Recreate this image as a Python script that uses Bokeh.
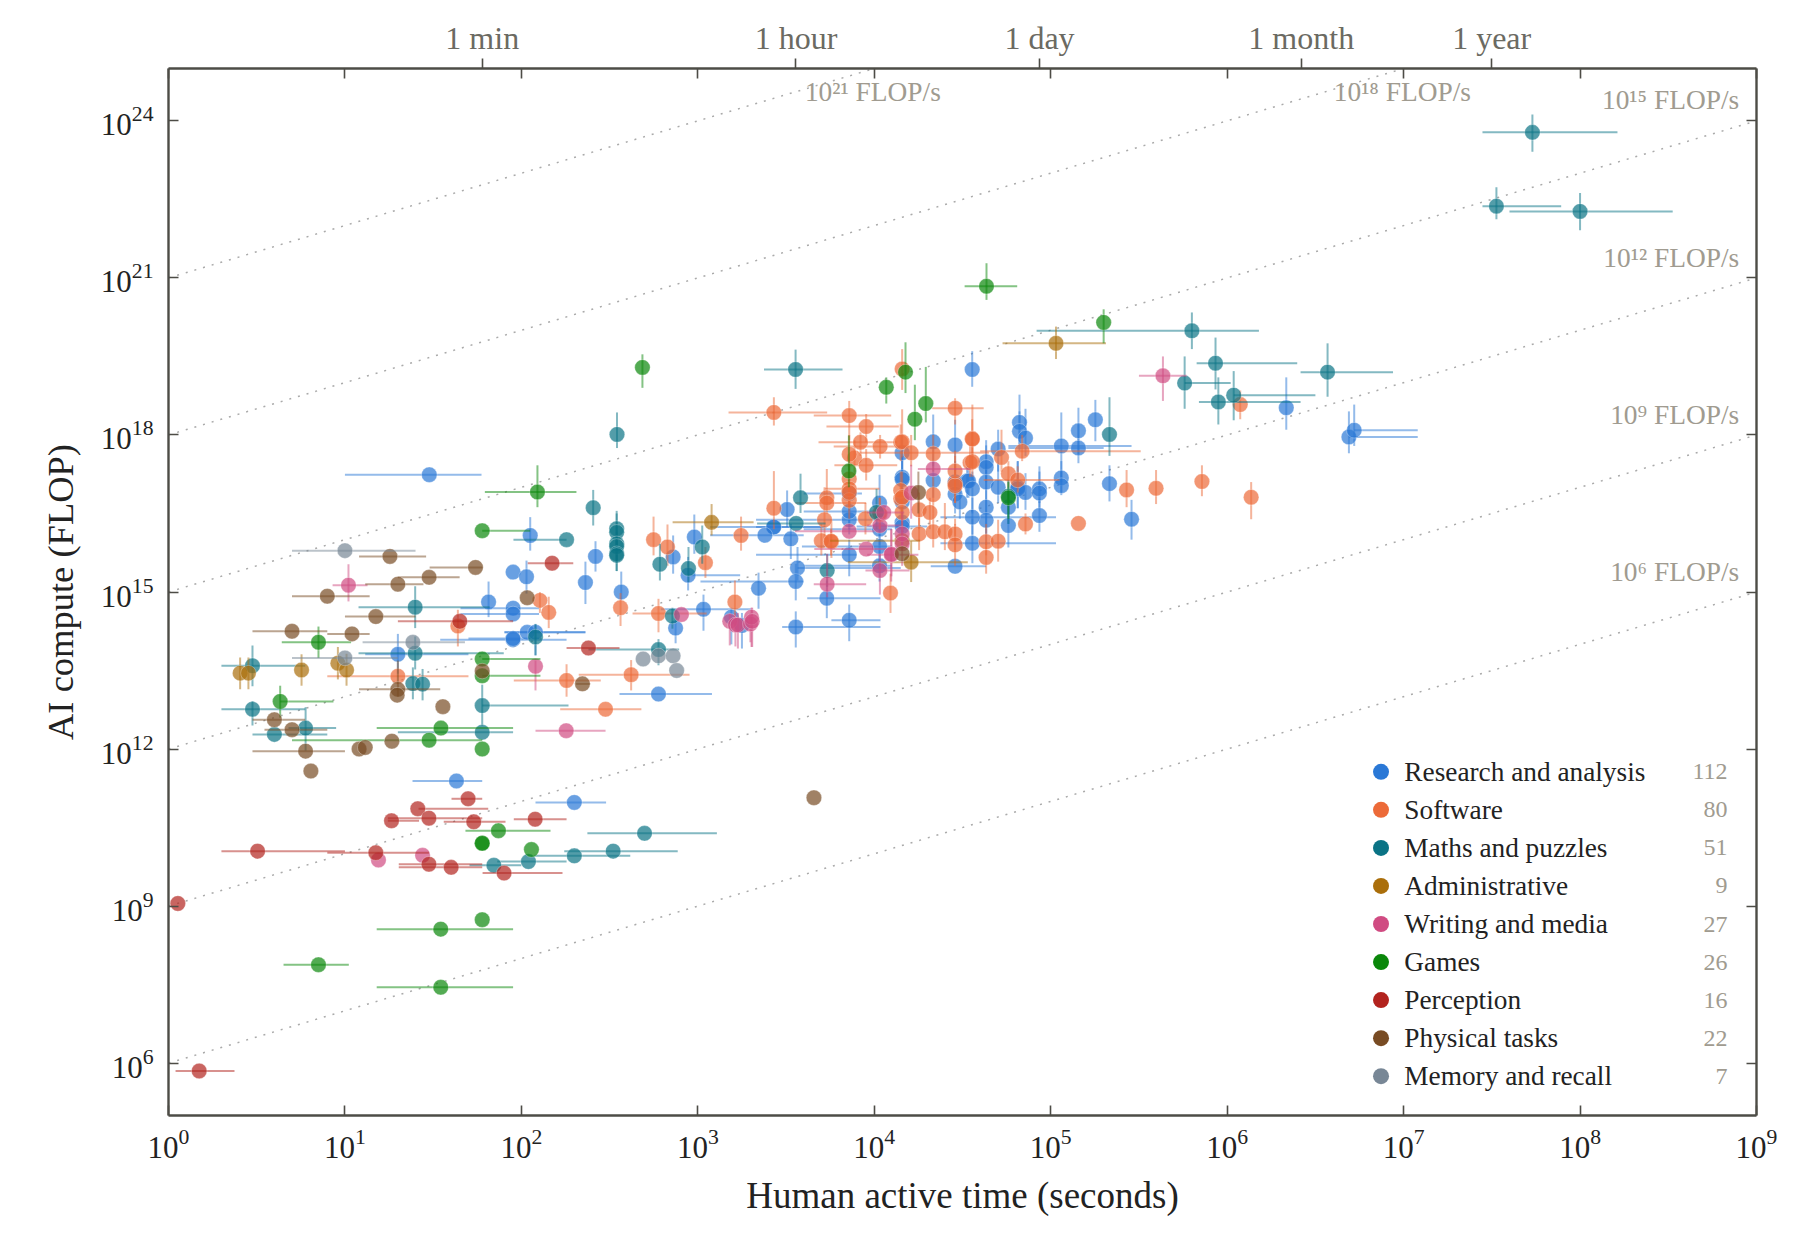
from bokeh.plotting import figure
from bokeh.models import Range1d, LinearAxis, FixedTicker, LogTickFormatter, Label
from bokeh.embed import file_html
from bokeh.resources import INLINE

N = None
# rows are log10(time), log10(FLOP), then optional log10 x low/high and y low/high
RESEARCH = [
 (1.30,13.81,1.115,1.70,13.44,14.2),(1.632,11.39,1.383,1.778),(2.30,10.98,2.08,2.48),
 (2.05,16.08,N,N,15.79,16.43),(1.953,15.38),(2.029,15.29,N,N,14.97,15.6),(1.814,14.81,N,N,14.52,15.2),
 (1.953,14.69,1.655,2.10),(1.953,14.58,1.655,2.10),(2.033,14.23,1.904,2.363),(2.08,14.23,1.904,2.363,13.79,14.39),
 (1.953,14.09,1.54,2.256),(1.953,14.11,1.70,2.10),(2.42,15.68,N,N,15.39,15.97),(2.363,15.18,N,N,14.77,15.58),
 (2.566,15.0,N,N,14.84,15.39),(2.86,15.67,N,N,15.35,16.08),(2.98,16.05,N,N,15.73,16.48),(2.945,15.32,2.945,3.24,15.03,15.67),
 (3.032,14.67,2.79,3.3,14.26,14.95),(2.874,14.31,N,N,14.02,14.65),(2.777,13.05,2.556,3.08),(3.19,14.52,N,N,14.0,14.7),
 (1.478,17.24,1.0,1.774),(3.506,16.575,N,N,16.24,16.94),(3.43,16.24,3.07,3.73),(3.43,16.24,3.33,3.72),
 (3.38,16.085,3.07,3.6),(3.527,16.015,N,N,15.63,16.3),(3.565,15.46,3.565,4.15,15.22,15.86),(3.555,15.2,3.015,3.6,14.84,15.54),
 (3.344,15.07,N,N,14.68,15.37),(3.25,14.36,N,N,13.92,14.6),(3.555,14.33,3.478,4.035,13.94,14.63),
 (3.858,14.46,3.757,4.035,14.06,14.76),(3.731,14.88,3.62,4.035,14.5,15.22),(3.858,15.71,3.33,3.9,15.3,16.0),
 (3.858,16.38,3.33,4.03,16.1,16.7),(3.858,16.54,3.6,4.03,16.2,16.9),(3.858,16.88,3.6,3.93,16.6,17.2),
 (4.03,16.7,N,N,16.4,17.24),(4.03,16.2,3.6,4.1,15.9,16.5),(4.03,15.87,3.59,4.1,15.5,16.2),(4.03,15.5,3.6,4.1,15.2,15.8),
 (4.158,17.66,N,N,17.3,18.0),(4.158,17.19,N,N,16.8,17.6),(4.158,17.15,N,N,16.8,17.6),(4.158,16.72,N,N,16.4,17.1),
 (4.158,16.33,N,N,16.0,16.7),(4.158,16.25,3.9,4.3,15.9,16.6),(4.334,17.87,N,N,17.4,18.39),(4.334,17.13,N,N,16.8,17.5),
 (4.458,17.81,N,N,17.32,18.29),(4.458,17.1,N,N,16.7,17.5),(4.458,16.87,N,N,16.5,17.2),(4.485,16.72,N,N,16.4,17.0),
 (4.526,17.12,N,N,16.8,17.4),(4.534,17.12,N,N,16.8,17.4),(4.458,15.49,4.32,4.634),(4.555,19.25,N,N,18.92,19.6),
 (4.634,17.49,N,N,17.1,17.9),(4.634,17.38,N,N,17.0,17.8),(4.634,17.1,N,N,16.7,17.45),(4.634,16.62,N,N,16.1,17.0),
 (4.634,16.37,N,N,15.9,16.7),(4.556,16.43,4.375,5.03,16.1,16.8),(4.556,16.97,N,N,16.5,17.3),(4.556,15.93,4.375,5.03,15.55,16.4),
 (4.702,17.73,N,N,17.3,18.1),(4.702,17.0,N,N,16.7,17.45),(4.76,16.62,N,N,16.3,17.0),(4.76,16.27,N,N,15.85,16.7),
 (4.813,17.0,N,N,16.6,17.5),(4.813,16.97,N,N,16.6,17.5),(4.823,18.24,N,N,17.83,18.77),(4.823,18.07,N,N,17.7,18.45),
 (4.857,17.94,N,N,17.6,18.5),(4.857,16.9,N,N,16.57,17.27),(4.936,16.97,N,N,16.7,17.4),(4.936,16.89,N,N,16.6,17.3),
 (4.936,16.46,N,N,16.15,16.78),(5.06,17.79,4.76,5.458,17.1,18.43),(5.06,17.18,N,N,16.9,17.5),(5.06,17.03,N,N,16.85,17.3),
 (5.157,18.08,N,N,17.64,18.52),(5.157,17.75,4.76,5.3,17.46,18.2),(5.253,18.29,N,N,17.88,18.67),(5.333,17.07,N,N,16.73,17.42),
 (5.458,16.39,N,N,16.0,16.76),(6.335,18.52,N,N,18.1,19.1),(6.69,17.96,6.69,7.08,17.65,18.45),(6.72,18.09,6.72,7.08,17.79,18.58),
]
SOFTWARE = [
 (1.30,13.39,0.90,1.70),(1.64,14.35,N,N,13.96,14.66),(2.105,14.84,N,N,14.6,15.0),(2.155,14.61,N,N,14.31,14.91),
 (2.256,13.31,1.957,2.45,13.0,13.62),(2.622,13.42,2.325,2.953,13.12,13.7),(2.477,12.76,2.22,2.68),(2.562,14.7,N,N,14.35,14.98),
 (2.777,14.59,2.63,3.05,14.23,14.87),(2.749,16.0,N,N,15.7,16.44),(2.828,15.86,N,N,15.5,16.29),(3.043,15.56,N,N,15.27,15.86),
 (3.21,14.81,N,N,14.52,15.22),(3.245,16.08,N,N,15.79,16.44),(3.431,18.43,3.174,3.733,18.18,18.72),(3.431,16.6,N,N,16.2,17.31),
 (3.731,16.8,N,N,16.5,17.35),(3.731,16.7,3.553,3.954),(3.718,16.38,N,N,16.0,17.0),(3.70,15.98,N,N,15.7,16.3),
 (3.757,15.96,N,N,15.65,16.39),(3.858,18.37,3.657,4.096,17.9,18.65),(3.954,18.16,3.729,4.139,17.86,18.4),(3.922,17.86,3.684,4.13,17.6,18.05),
 (4.033,17.78,3.77,4.2,17.55,18.0),(3.888,17.56,N,N,17.2,17.9),(3.858,17.63,N,N,17.3,18.0),(3.954,17.42,3.774,4.13,17.13,17.73),
 (3.858,17.16,N,N,16.8,17.5),(3.858,16.97,3.72,4.03,16.6,17.3),(3.858,16.75,N,N,16.4,17.1),(4.15,17.86,N,N,17.5,18.2),
 (4.15,16.94,N,N,16.6,17.3),(4.15,16.78,N,N,16.4,17.1),(4.092,14.98,N,N,14.6,15.35),(4.032,16.48,N,N,16.2,16.8),
 (4.158,19.26,N,N,18.86,19.64),(4.458,18.51,4.328,4.62,18.2,18.7),(4.158,17.87,N,N,17.57,18.49),(4.209,17.66,3.92,4.65,17.4,18.0),
 (4.334,17.64,N,N,17.3,18.0),(4.555,17.93,N,N,17.4,18.3),(4.543,17.47,N,N,17.2,17.8),(4.458,17.07,N,N,16.7,17.7),
 (4.458,17.03,N,N,16.7,17.4),(4.334,16.86,N,N,16.5,17.2),(4.254,16.57,N,N,16.2,16.9),(4.315,16.52,N,N,16.2,16.8),
 (4.254,16.11,N,N,15.8,16.5),(4.334,16.15,N,N,15.85,16.5),(4.40,16.15,N,N,15.8,16.7),(4.458,16.11,N,N,15.8,16.4),
 (4.458,15.9,N,N,15.5,16.3),(4.158,16.81,N,N,16.5,17.3),(4.158,16.52,N,N,16.2,16.9),(3.755,15.97,N,N,15.7,16.2),
 (4.556,17.92,N,N,17.6,18.58),(4.556,17.49,N,N,17.2,17.85),(4.721,17.57,N,N,17.3,18.1),(4.838,17.69,4.6,5.51,17.5,18.0),
 (4.76,17.26,N,N,17.0,17.5),(4.813,17.14,4.62,5.05,16.9,17.4),(4.458,17.31,N,N,17.0,17.6),(4.634,15.96,N,N,15.7,16.3),
 (4.702,15.97,N,N,15.58,16.38),(4.634,15.66,N,N,15.35,15.95),(4.857,16.3,N,N,16.1,16.5),(5.157,16.31),
 (5.43,16.95,N,N,16.62,17.33),(5.597,16.98,N,N,16.68,17.33),(5.857,17.11,N,N,16.83,17.42),(6.136,16.81,N,N,16.39,17.1),
 (6.074,18.58,N,N,18.3,18.85),(3.858,16.9,N,N,16.6,17.2),(3.95,16.4,N,N,16.1,16.7),(4.03,16.5,N,N,16.2,16.8),
]
MATHS = [
 (0.476,13.59,0.30,0.775,13.2,13.98),(1.398,14.71,1.077,1.82,14.31,15.11),(1.398,13.83,1.077,1.9,13.52,14.15),
 (1.385,13.25,N,N,12.95,13.56),(1.44,13.24,N,N,12.93,13.53),(0.476,12.76,0.30,0.775,12.45,12.92),(0.777,12.4,0.68,0.95,11.97,12.8),
 (0.60,12.28,0.476,0.90),(1.778,12.83,1.778,2.267,12.45,13.23),(1.778,12.32,1.3,1.953),(2.08,14.14,N,N,13.79,14.39),
 (2.256,16.0,1.955,2.256),(2.407,16.61,N,N,16.27,16.95),(2.54,16.21,N,N,15.9,16.55),(2.54,16.14,N,N,15.85,16.5),(2.54,15.92,N,N,15.6,16.25),
 (2.54,15.87,N,N,15.55,16.15),(2.54,15.73,N,N,15.4,16.0),(2.54,15.7,N,N,15.4,16.0),(2.785,15.53,N,N,15.22,15.92),
 (3.025,15.86,N,N,15.54,16.27),(2.947,15.45,N,N,15.19,15.86),(2.856,14.54,N,N,14.3,14.7),(2.777,13.9,2.38,2.894,13.6,14.1),
 (3.582,16.8,N,N,16.51,17.26),(3.557,16.31,3.336,3.724),(3.733,15.41,N,N,15.1,15.72),(4.013,16.52,N,N,16.2,16.97),
 (2.542,18.01,N,N,17.75,18.43),(3.554,19.25,3.375,3.82,18.88,19.63),(4.76,16.83,N,N,16.3,17.13),(5.333,18.01,N,N,17.6,18.72),
 (7.73,23.78,7.447,8.212,23.41,24.12),(7.526,22.37,7.447,7.893,22.12,22.73),(8.0,22.27,7.6,8.525,21.91,22.62),
 (5.8,19.99,4.92,6.18,19.64,20.34),(5.934,19.37,5.827,6.397,18.87,19.86),(6.569,19.2,6.416,6.94,18.73,19.75),
 (5.759,18.99,5.759,6.02,18.5,19.5),(6.037,18.76,6.037,6.5,18.28,19.22),(5.95,18.63,5.84,6.416,18.2,19.1),
 (1.844,9.78,1.706,2.0),(2.04,9.85,1.863,2.256),(2.30,9.96,2.074,2.617),(2.52,10.05,2.243,2.886),(2.698,10.39,2.374,3.108),
]
ADMIN = [
 (0.406,13.45,N,N,13.14,13.75),(0.453,13.45,N,N,13.14,13.75),(0.754,13.51,N,N,13.21,13.81),(0.96,13.64,N,N,13.33,13.95),
 (1.009,13.51,N,N,13.21,13.82),(3.078,16.33,2.857,3.316,16.08,16.68),(5.03,19.75,4.727,5.313,19.45,20.07),
 (4.209,15.57,3.85,4.53,15.19,15.97),(4.158,15.98,3.75,4.26),
]
WRITING = [
 (1.02,15.13,0.93,1.128,14.82,15.53),(2.08,13.58,N,N,13.12,13.69),(2.254,12.35,2.08,2.477),(2.907,14.57),
 (3.181,14.44,N,N,13.98,14.6),(3.213,14.37,N,N,13.96,14.6),(3.227,14.37,N,N,13.92,14.6),(3.298,14.39,N,N,14.04,14.6),
 (3.304,14.52,N,N,13.95,14.7),(3.308,14.44,N,N,13.95,14.7),(3.733,15.15,3.657,3.954,14.9,15.73),(3.858,16.16,3.55,4.0),
 (3.954,15.82,3.66,4.1),(4.032,16.27,3.96,4.15),(4.054,16.52,3.96,4.17),(4.032,15.41,3.95,4.2,14.95,15.73),
 (4.096,15.71,3.96,4.25,15.2,16.2),(4.158,16.11,N,N,15.8,16.5),(4.158,15.92,N,N,15.5,16.2),(4.209,16.89,N,N,16.4,17.43),
 (4.334,17.35,4.247,4.545),(4.097,15.72,N,N,15.3,16.2),(5.636,19.13,5.50,5.77,18.65,19.5),(1.44,9.97),(1.19,9.88),
]
GAMES = [
 (0.85,14.04,0.642,1.035,13.74,14.34),(0.633,12.91,0.633,0.935,12.6,13.21),(1.544,12.4,1.18,1.953),(1.477,12.17,0.70,1.778),
 (1.778,13.72,1.778,2.108),(1.778,13.4,1.778,2.108),(2.091,16.91,1.793,2.312,16.62,17.42),(1.778,16.17,1.778,2.05),
 (1.778,12.0),(1.87,10.44,1.683,2.165),(1.778,10.2),(1.778,10.2),(2.057,10.08),(1.778,8.74),(1.543,8.56,1.18,1.953),
 (0.85,7.88,0.652,1.022),(1.543,7.45,1.18,1.953),(2.686,19.29,N,N,18.9,19.54),(4.068,18.91,N,N,18.6,19.1),(4.177,19.2,N,N,18.8,19.77),
 (4.23,18.3,N,N,17.9,18.96),(4.292,18.6,N,N,18.24,19.3),(3.856,17.31,N,N,17.0,17.99),(4.636,20.84,4.512,4.81,20.58,21.28),
 (5.30,20.15,N,N,19.75,20.4),(4.76,16.8,N,N,16.4,17.1),
]
PERCEPTION = [
 (1.698,11.05,1.604,1.778),(1.413,10.86,1.417,1.812),(1.264,10.63,1.243,1.42),(1.476,10.68,1.243,1.778),(1.73,10.61,1.56,1.91),
 (2.078,10.66,1.957,2.256),(1.175,10.02,0.9,1.476),(1.476,9.80,1.305,1.778),(1.602,9.74,1.305,1.778),(1.902,9.63,1.78,2.233),
 (0.505,10.05,0.30,1.0),(0.053,9.05),(0.174,5.85,0.04,0.374),(2.174,15.55,2.036,2.294),(1.651,14.44,1.30,1.953),(2.38,13.93,2.256,2.556),
]
PHYSICAL = [
 (1.255,15.68,1.08,1.46),(1.477,15.28,1.30,1.65),(1.30,15.15,1.115,1.445),(0.90,14.92,0.70,1.14),(1.175,14.53,1.0,1.40),
 (0.70,14.25,0.476,0.90),(1.04,14.20,0.90,1.14),(1.74,15.47,1.48,1.78),(1.30,13.14,1.08,1.54,13.0,13.69),(1.296,13.03),(1.555,12.81),
 (0.60,12.56,0.476,0.775),(0.70,12.37,0.544,0.90),(1.266,12.15),(0.777,11.96,0.476,1.0),(1.08,12.0),(1.115,12.03),(0.807,11.58),
 (2.033,14.89),(1.778,13.49),(2.346,13.245,2.31,2.39),(3.658,11.07),(4.158,15.73),(4.25,16.9,N,N,16.5,17.3),
]
MEMORY = [
 (1.0,15.79,0.70,1.40),(1.385,14.04,1.10,1.68),(1.0,13.74,0.70,1.30),(2.69,13.72),(2.777,13.78),(2.86,13.78),(2.88,13.5),
]
CATEGORIES = ["Research and analysis", "Software", "Maths and puzzles", "Administrative", "Writing and media",
              "Games", "Perception", "Physical tasks", "Memory and recall"]
COUNTS = [112, 80, 51, 9, 27, 26, 16, 22, 7]
COLORS = ["#2a78d6", "#ec6a38", "#0a7385", "#aa6e0a", "#d04b82", "#0a870a", "#b2231e", "#784b23", "#788796"]
SERIES = [RESEARCH, SOFTWARE, MATHS, ADMIN, WRITING, GAMES, PERCEPTION, PHYSICAL, MEMORY]
X_TICKS = [10.0**e for e in range(0, 10)]
Y_TICKS = [10.0**e for e in range(6, 25, 3)]
TOP_TICKS = [60, 3600, 86400, 2629800, 31557600]
TOP_LABELS = ["1 min", "1 hour", "1 day", "1 month", "1 year"]
RATE_EXP = [6, 9, 12, 15, 18, 21]
SERIF = "Liberation Serif"
INK = "#4d4c46"
DARK = "#222222"

p = figure(width=1792, height=1232, x_axis_type="log", y_axis_type="log",
           x_range=Range1d(1, 1e9), y_range=Range1d(1e5, 1e25),
           output_backend="svg", toolbar_location=None,
           min_border_left=168, min_border_right=36, min_border_top=68, min_border_bottom=117)
p.grid.visible = False
p.outline_line_color = None
p.background_fill_color = "white"

def style(ax, ticks, tin, tout):
    ax.ticker = FixedTicker(ticks=ticks)
    ax.axis_line_color = INK
    ax.axis_line_width = 2.4
    ax.major_tick_line_color = INK
    ax.major_tick_line_width = 1.6
    ax.minor_tick_line_color = None
    ax.major_tick_in = tin
    ax.major_tick_out = tout

xa = p.xaxis[0]
style(xa, X_TICKS, 10, 0)
xa.formatter = LogTickFormatter()
xa.major_label_text_font = SERIF
xa.major_label_text_font_size = "31px"
xa.major_label_text_color = DARK
xa.major_label_standoff = 13
xa.axis_label = "Human active time (seconds)"
xa.axis_label_text_font = SERIF
xa.axis_label_text_font_style = "normal"
xa.axis_label_text_font_size = "37px"
xa.axis_label_text_color = DARK
xa.axis_label_standoff = 14

ya = p.yaxis[0]
style(ya, Y_TICKS, 10, 0)
ya.formatter = LogTickFormatter()
ya.major_label_text_font = SERIF
ya.major_label_text_font_size = "31px"
ya.major_label_text_color = DARK
ya.major_label_standoff = 15
ya.axis_label = "AI compute (FLOP)"
ya.axis_label_text_font = SERIF
ya.axis_label_text_font_style = "normal"
ya.axis_label_text_font_size = "36.5px"
ya.axis_label_text_color = DARK
ya.axis_label_standoff = 17

ra = LinearAxis(major_label_overrides={t: "" for t in Y_TICKS}, major_label_text_font_size="1px", major_label_standoff=0)
style(ra, Y_TICKS, 10, 0)
p.add_layout(ra, "right")

ta = LinearAxis(major_label_overrides={t: "" for t in X_TICKS}, major_label_text_font_size="1px", major_label_standoff=0)
style(ta, X_TICKS, 10, 0)
p.add_layout(ta, "above")
tb = LinearAxis(major_label_overrides={t: l for t, l in zip(TOP_TICKS, TOP_LABELS)},
                major_label_text_font=SERIF, major_label_text_font_size="32px",
                major_label_text_color="#6b6a62", major_label_standoff=3)
style(tb, TOP_TICKS, 0, 10)
tb.axis_line_color = None
p.add_layout(tb, "above")

for e in RATE_EXP:
    p.line([1, 1e9], [10.0**e, 10.0**(e + 9)], line_color="#aaaaaa", line_width=1.5, line_dash="2 7")

SUP = str.maketrans("0123456789", "⁰¹²³⁴⁵⁶⁷⁸⁹")
RATE_POS = [(8.902, 15.38), (8.902, 18.38), (8.902, 21.38), (8.902, 24.40), (7.382, 24.55), (4.377, 24.55)]
for e, (lx, ly) in zip(RATE_EXP, RATE_POS):
    p.add_layout(Label(x=10.0**lx, y=10.0**ly, text="10" + str(e).translate(SUP) + " FLOP/s",
                       text_font=SERIF, text_font_size="27.4px", text_color="#a09b90",
                       text_align="right", text_baseline="middle"))

def rows_to_data(rows):
    xs, ys, sx0, sx1, sy, vx, vy0, vy1 = [], [], [], [], [], [], [], []
    for r in rows:
        r = tuple(r) + (N,) * (6 - len(r))
        x, y, xl, xh, yl, yh = r
        xs.append(10.0**x); ys.append(10.0**y)
        if xl is not None:
            sx0.append(10.0**xl); sx1.append(10.0**xh); sy.append(10.0**y)
        if yl is not None:
            vx.append(10.0**x); vy0.append(10.0**yl); vy1.append(10.0**yh)
    return xs, ys, sx0, sx1, sy, vx, vy0, vy1

for name, color, rows in zip(CATEGORIES, COLORS, SERIES):
    xs, ys, sx0, sx1, sy, vx, vy0, vy1 = rows_to_data(rows)
    p.segment(sx0, sy, sx1, sy, line_color=color, line_alpha=0.5, line_width=2.0)
    p.segment(vx, vy0, vx, vy1, line_color=color, line_alpha=0.5, line_width=2.0)
    p.scatter(xs, ys, size=15.5, fill_color=color, fill_alpha=0.7, line_color="white", line_alpha=0.5, line_width=0.6)

# hand-built legend with counts, in a column of its own at the lower right
key_x, text_x, count_x, top_y, step = 6.872, 7.004, 8.836, 11.565, 0.7268
key_ys = [10.0**(top_y - step * i) for i in range(len(CATEGORIES))]
p.scatter([10.0**key_x] * len(key_ys), key_ys, size=16, fill_color=COLORS, line_color=None)
for name, c, y in zip(CATEGORIES, COUNTS, key_ys):
    p.add_layout(Label(x=10.0**text_x, y=y, text=name, text_font=SERIF, text_font_size="27.3px",
                       text_color=DARK, text_align="left", text_baseline="middle"))
    p.add_layout(Label(x=10.0**count_x, y=y, text=str(c), text_font=SERIF, text_font_size="24px",
                       text_color="#a09b90", text_align="right", text_baseline="middle"))

open("out.html", "w").write(file_html(p, INLINE))
